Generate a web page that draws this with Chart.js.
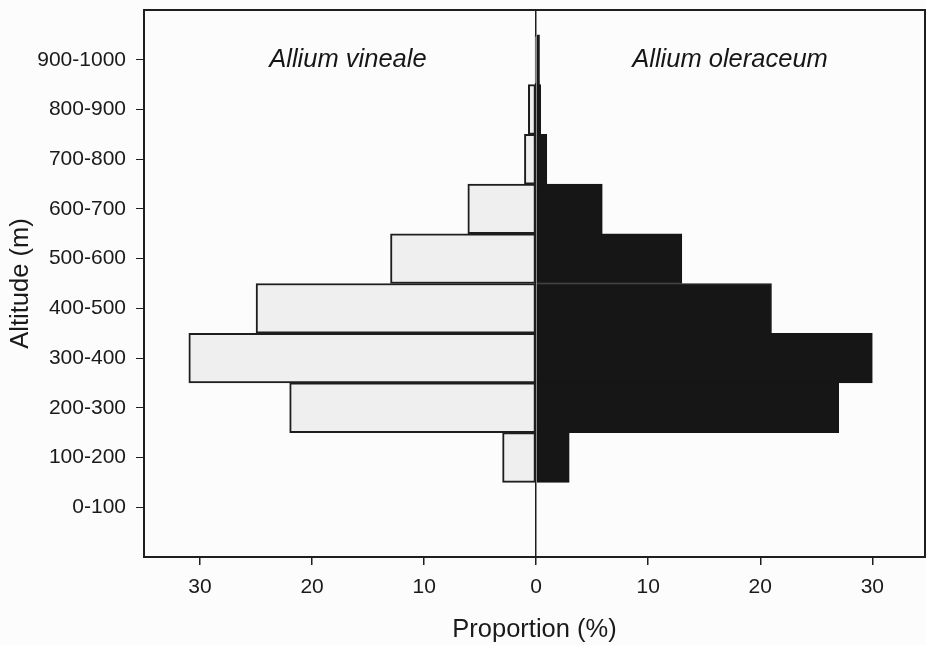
<!DOCTYPE html>
<html>
<head>
<meta charset="utf-8">
<script src="https://cdn.jsdelivr.net/npm/chart.js@4/dist/chart.umd.min.js"></script>
<style>
  html, body { margin: 0; padding: 0; background: #fcfcfc; overflow: hidden; }
  #wrap { width: 926px; height: 645px; }
</style>
</head>
<body>
<div id="wrap"><canvas id="pyramid"></canvas></div>
<script>
// altitude classes, bottom to top
var altitudes = ['0-100', '100-200', '200-300', '300-400', '400-500', '500-600', '600-700', '700-800', '800-900', '900-1000'];
// proportion of localities (%) per altitude class
var vineale = [0, 3, 22, 31, 25, 13, 6.1, 1.05, 0.7, 0.1];
var oleraceum = [0, 2.95, 27, 30, 21, 13, 5.9, 0.95, 0.4, 0.3];
var xTicks = [-30, -20, -10, 0, 10, 20, 30];

var ink = '#1e1e1e';
var font = 'Liberation Sans, Arial, sans-serif';

// one empty row below and above keeps the gap the original frame has
var labels = [''].concat(altitudes, ['']);
function pad(arr) { return [null].concat(arr, [null]); }

// species names written inside the plot, over the top rows
var speciesNames = {
    id: 'speciesNames',
    afterDatasetsDraw: function (chart) {
        var c = chart.ctx;
        var x = chart.scales.x, y = chart.scales.y;
        var yPix = y.getPixelForValue(labels.indexOf('900-1000'));
        c.save();
        c.fillStyle = '#161616';
        c.font = 'italic 25.5px ' + font;
        c.textAlign = 'center';
        c.textBaseline = 'middle';
        c.fillText('Allium vineale', x.getPixelForValue(-16.8), yPix);
        c.fillText('Allium oleraceum', x.getPixelForValue(17.3), yPix);
        c.restore();
    }
};

var ctx = document.getElementById('pyramid').getContext('2d');
var chart = new Chart(ctx, {
    type: 'bar',
    data: {
        labels: labels,
        datasets: [{
            label: 'Allium vineale',
            data: pad(vineale.map(function (v) { return -v; })),
            backgroundColor: '#efefef',
            borderColor: ink,
            borderWidth: 2,
            borderSkipped: false,
            barPercentage: 1,
            categoryPercentage: 1
        }, {
            label: 'Allium oleraceum',
            data: pad(oleraceum),
            backgroundColor: '#161616',
            borderColor: '#161616',
            borderWidth: 1,
            barPercentage: 1,
            categoryPercentage: 1
        }]
    },
    options: {
        indexAxis: 'y',
        responsive: true,
        maintainAspectRatio: false,
        animation: false,
        layout: { padding: { left: 0, right: 1, top: 10, bottom: 0 } },
        plugins: {
            legend: { display: false },
            tooltip: { enabled: false }
        },
        scales: {
            x: {
                type: 'linear',
                stacked: true,
                min: -35,
                max: 34.7,
                afterBuildTicks: function (axis) {
                    axis.ticks = xTicks.map(function (v) { return { value: v }; });
                },
                afterFit: function (axis) {
                    axis.height = 88;
                    axis.paddingLeft = 0;
                    axis.paddingRight = 0;
                },
                ticks: {
                    color: '#1a1a1a',
                    font: { family: font, size: 21 },
                    padding: 10,
                    callback: function (v) { return Math.abs(v); }
                },
                grid: {
                    color: function (c) { return c.tick && c.tick.value === 0 ? ink : 'transparent'; },
                    lineWidth: 1.5,
                    tickColor: ink,
                    tickLength: 8
                },
                border: { color: ink, width: 2 },
                title: {
                    display: true,
                    text: 'Proportion (%)',
                    color: '#1a1a1a',
                    font: { family: font, size: 25.5 },
                    padding: { top: 10, bottom: 0 }
                }
            },
            y: {
                type: 'category',
                stacked: true,
                offset: false,
                reverse: true,
                afterFit: function (axis) {
                    axis.width = 144;
                    // empty edge rows need no room for their labels
                    axis.paddingTop = 0;
                    axis.paddingBottom = 0;
                },
                ticks: {
                    color: '#1a1a1a',
                    font: { family: font, size: 21 },
                    padding: 10,
                    autoSkip: false
                },
                grid: {
                    offset: false,
                    drawOnChartArea: false,
                    tickColor: function (c) { return c.tick && c.tick.label === '' ? 'transparent' : ink; },
                    tickLength: 8
                },
                border: { color: ink, width: 2 },
                title: {
                    display: true,
                    text: 'Altitude (m)',
                    color: '#1a1a1a',
                    font: { family: font, size: 25.5 },
                    padding: { top: 6, bottom: 0 }
                }
            },
            xTop: {
                type: 'linear',
                position: 'top',
                afterFit: function (axis) { axis.height = 0; },
                ticks: { display: false },
                grid: { drawOnChartArea: false, drawTicks: false },
                border: { color: ink, width: 2 }
            },
            yRight: {
                type: 'linear',
                position: 'right',
                afterFit: function (axis) { axis.width = 0; },
                ticks: { display: false },
                grid: { drawOnChartArea: false, drawTicks: false },
                border: { color: ink, width: 2 }
            }
        }
    },
    plugins: [speciesNames]
});
</script>
</body>
</html>
